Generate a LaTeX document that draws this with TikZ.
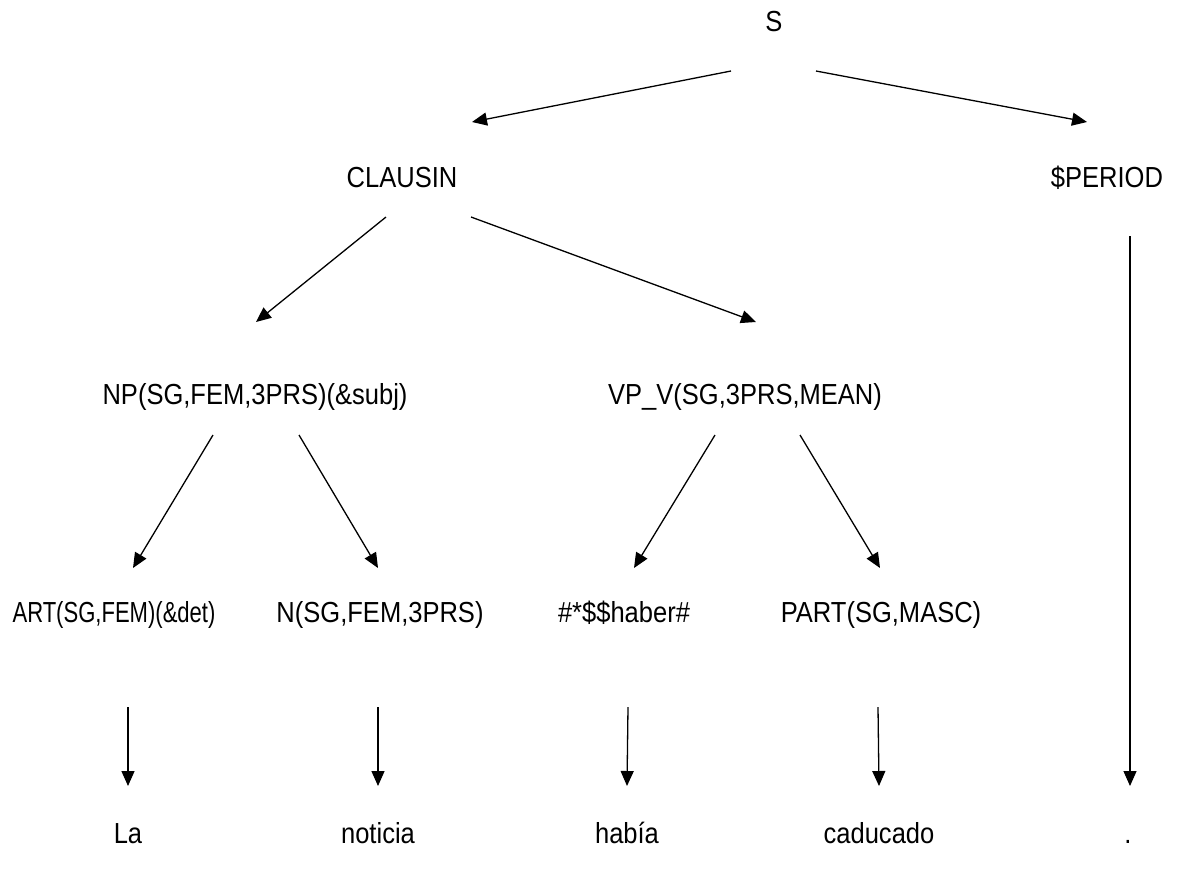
\documentclass[tikz,border=0pt]{standalone}
\usepackage{fontspec}
\setmainfont{Liberation Sans}[FakeStretch=0.88]
\newfontfamily\condensedfont{Liberation Sans}[FakeStretch=0.76]
\usetikzlibrary{arrows.meta,calc}

\begin{document}
\begin{tikzpicture}[x=1pt,y=-1pt,
  lbl/.style={anchor=base,inner sep=0pt,font=\fontsize{29}{34}\selectfont},
  lblc/.style={lbl,font=\condensedfont\fontsize{29}{34}\selectfont},
  arr/.style={line width=1.3pt,-{Triangle[length=15pt,width=13pt]}}]
\useasboundingbox[fill=white] (0,0) rectangle (1199,871);

% labels, placed on their baselines
\node[lbl] (S)    at (774,31)  {S};
\node[lbl] (CL)   at (402,187) {CLAUSIN};
\node[lbl] (PER)  at (1107,187) {\$PERIOD};
\node[lbl] (NP)   at (255,404) {NP(SG,FEM,3PRS)(\&subj)};
\node[lbl] (VP)   at (745,404) {VP\_V(SG,3PRS,MEAN)};
\node[lblc] (ART) at (114,622) {ART(SG,FEM)(\&det)};
\node[lbl] (N)    at (380,622) {N(SG,FEM,3PRS)};
\node[lbl] (HAB)  at (624,622) {\#*\$\$haber\#};
\node[lbl] (PART) at (881,622) {PART(SG,MASC)};
\node[lbl] (La)   at (128,843) {La};
\node[lbl] (noti) at (378,843) {noticia};
\node[lbl] (habi) at (627,843) {había};
\node[lbl] (cadu) at (879,843) {caducado};
\node[lbl] (dot)  at (1128,843) {.};

% connectors
\draw[arr] ($(S.base)+(-43,40)$) -- ($(CL.base)+(70,-65)$);
\draw[arr] ($(S.base)+(42,40)$) -- ($(PER.base)+(-20,-65)$);
\draw[arr] ($(CL.base)+(-16,30)$) -- ($(NP.base)+(1,-82)$);
\draw[arr] ($(CL.base)+(69,30)$) -- ($(VP.base)+(11,-82)$);
\draw[arr] ($(PER.base)+(23,49)$) -- ($(dot.base)+(2,-57)$);
\draw[arr] ($(NP.base)+(-42,31)$) -- ($(ART.base)+(19,-54)$);
\draw[arr] ($(NP.base)+(44,31)$) -- ($(N.base)+(-2,-54)$);
\draw[arr] ($(VP.base)+(-30,31)$) -- ($(HAB.base)+(10,-54)$);
\draw[arr] ($(VP.base)+(55,31)$) -- ($(PART.base)+(-1,-54)$);
\draw[arr] ($(ART.base)+(14,85)$) -- ($(La.base)+(0,-57)$);
\draw[arr] ($(N.base)+(-2,85)$) -- ($(noti.base)+(0,-57)$);
\draw[arr] ($(HAB.base)+(4,85)$) -- ($(habi.base)+(0,-57)$);
\draw[arr] ($(PART.base)+(-3,85)$) -- ($(cadu.base)+(0,-57)$);
\end{tikzpicture}
\end{document}
